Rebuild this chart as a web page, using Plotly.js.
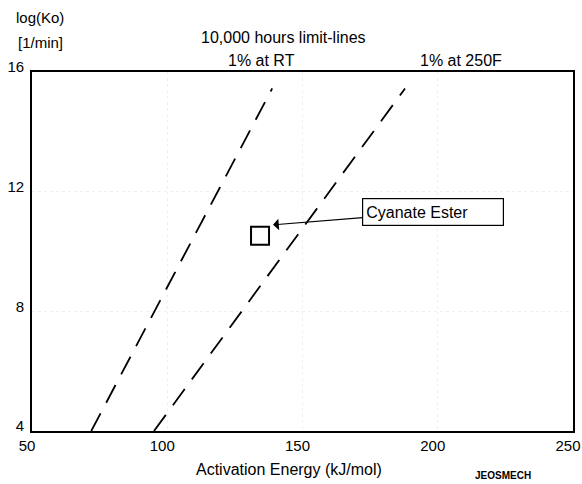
<!DOCTYPE html>
<html>
<head>
<meta charset="utf-8">
<script src="https://cdn.plot.ly/plotly-3.0.1.min.js"></script>
<style>html,body{margin:0;padding:0;background:#fff;}#chart{width:582px;height:484px;}</style>
</head>
<body>
<div id="chart"></div>
<script>
// Limit lines (activation energy kJ/mol vs log(Ko) [1/min])
const rtLineX = [71.9, 138.8];
const rtLineY = [4, 15.45];
const hotLineX = [95.1, 187.9];
const hotLineY = [4, 15.45];
// Material point
const materialName = ["Cyanate Ester"];
const materialX = [134.3];
const materialY = [10.53];
// Axis ticks
const xTicks = [50, 100, 150, 200, 250];
const yTicks = [4, 8, 12, 16];

const font = "Liberation Sans, Arial, Helvetica, sans-serif";
const dash = "20px,12px";

const traces = [
  {x: rtLineX, y: rtLineY, mode: "lines", line: {color: "#000", width: 1.8, dash: dash}, hoverinfo: "skip"},
  {x: hotLineX, y: hotLineY, mode: "lines", line: {color: "#000", width: 1.8, dash: dash}, hoverinfo: "skip"},
  {x: materialX, y: materialY, text: materialName, mode: "markers",
   marker: {symbol: "square-open", size: 18, color: "#000", line: {width: 2, color: "#000"}}}
];

const layout = {
  width: 582, height: 484,
  margin: {l: 32, r: 9, t: 72, b: 53},
  showlegend: false,
  paper_bgcolor: "#fff", plot_bgcolor: "#fff",
  font: {family: font, size: 15, color: "#000"},
  xaxis: {
    range: [50, 250], tickvals: xTicks, ticktext: xTicks.map(String),
    showline: true, mirror: true, linecolor: "#000", linewidth: 1.8,
    showgrid: true, gridcolor: "#f0f0f0", griddash: "dot", gridwidth: 1,
    zeroline: false, ticks: "", ticklabeloverflow: "allow", ticklabelshift: -5,
    tickfont: {size: 15, family: font}
  },
  yaxis: {
    range: [4, 16], tickvals: yTicks, ticktext: yTicks.map(String),
    showline: true, mirror: true, linecolor: "#000", linewidth: 1.8,
    showgrid: true, gridcolor: "#f0f0f0", griddash: "dot", gridwidth: 1,
    zeroline: false, ticks: "", ticklabeloverflow: "allow", ticklabelstandoff: 3,
    ticklabelshift: -5,
    tickfont: {size: 15, family: font}
  },
  annotations: [
    {text: "log(Ko)", xref: "paper", yref: "paper", x: -0.034, y: 1.153, xanchor: "left", yanchor: "middle", showarrow: false, font: {size: 15}},
    {text: "[1/min]", xref: "paper", yref: "paper", x: -0.03, y: 1.081, xanchor: "left", yanchor: "middle", showarrow: false, font: {size: 15}},
    {text: "10,000 hours limit-lines", xref: "paper", yref: "paper", x: 0.464, y: 1.095, xanchor: "center", yanchor: "middle", showarrow: false, font: {size: 16}},
    {text: "1% at RT", xref: "x", yref: "paper", x: 135, y: 1.033, xanchor: "center", yanchor: "middle", showarrow: false, font: {size: 16}},
    {text: "1% at 250F", xref: "x", yref: "paper", x: 208.6, y: 1.033, xanchor: "center", yanchor: "middle", showarrow: false, font: {size: 16}},
    {text: "Activation Energy (kJ/mol)", xref: "paper", yref: "paper", x: 0.475, y: -0.106, xanchor: "center", yanchor: "middle", showarrow: false, font: {size: 16}},
    {text: "<b>JEOSMECH</b>", xref: "paper", yref: "paper", x: 0.87, y: -0.145, xanchor: "center", yanchor: "bottom", showarrow: false, font: {size: 10}},
    {text: materialName[0], x: 139.1, y: 10.89, xref: "x", yref: "y",
     showarrow: true, arrowhead: 1, arrowsize: 1.6, arrowwidth: 1.2, arrowcolor: "#000",
     ax: 160, ay: -13, bordercolor: "#000", borderwidth: 1.2, borderpad: 3, bgcolor: "#fff",
     width: 134, height: 20, align: "left", font: {size: 16}}
  ]
};

Plotly.newPlot("chart", traces, layout, {staticPlot: true, displayModeBar: false});
</script>
</body>
</html>
